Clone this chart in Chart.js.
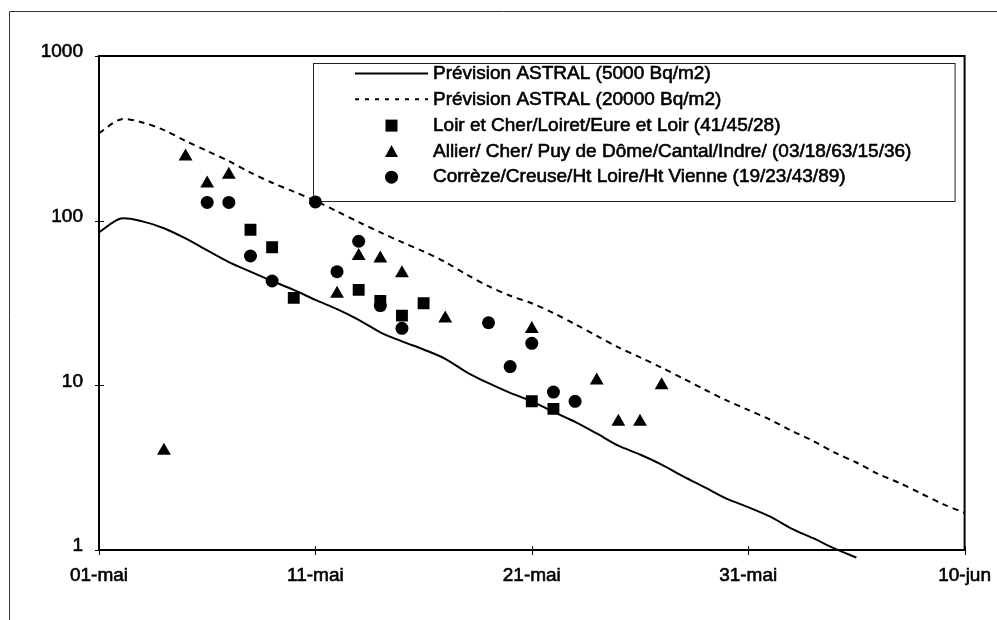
<!DOCTYPE html>
<html>
<head>
<meta charset="utf-8">
<script src="https://cdn.jsdelivr.net/npm/chart.js@4/dist/chart.umd.min.js"></script>
<style>
  html, body { margin: 0; padding: 0; background: #fff; }
  #wrap { position: relative; width: 997px; height: 620px; }
</style>
</head>
<body>
<div id="wrap"><canvas id="chart" width="997" height="620"></canvas></div>
<script>
// x values are days counted from 1 May
const xTickDays = [0, 10, 20, 30, 40];
const xTickLabels = ['01-mai', '11-mai', '21-mai', '31-mai', '10-jun'];
const yTickValues = [1, 10, 100, 1000];

const seriesNames = [
    'Prévision ASTRAL (5000 Bq/m2)',
    'Prévision ASTRAL (20000 Bq/m2)',
    'Loir et Cher/Loiret/Eure et Loir (41/45/28)',
    'Allier/ Cher/ Puy de Dôme/Cantal/Indre/ (03/18/63/15/36)',
    'Corrèze/Creuse/Ht Loire/Ht Vienne (19/23/43/89)'
];

// ASTRAL forecasts, one value per day from 1 May
const astral5000 = [85, 103, 99, 90, 78, 66, 56, 49, 43, 38, 33, 29, 25, 21, 18.5, 16.5, 14.5, 12,
    10.3, 9.0, 8.0, 6.9, 6.0, 5.1, 4.3, 3.8, 3.3, 2.8, 2.4, 2.05, 1.82, 1.6, 1.35, 1.18, 1.02, 0.9];
const astral20000 = [340, 412, 395, 355, 305, 265, 230, 196, 170, 150, 132, 114, 98, 85, 74, 65, 56,
    47, 40, 35, 31.5, 27.5, 23.5, 20, 17, 14.8, 12.8, 11, 9.4, 8.1, 7.1, 6.2, 5.3, 4.6, 3.9, 3.4,
    2.9, 2.55, 2.2, 1.9, 1.68];

// measurements
const loirDays = [7, 8, 9, 12, 13, 14, 15, 20, 21];
const loirValues = [88, 69, 34, 38, 32.5, 26.5, 31.5, 8.0, 7.2];

const allierDays = [3, 4, 5, 6, 11, 12, 13, 14, 16, 20, 23, 24, 25, 26];
const allierValues = [4, 245, 168, 190, 36, 61, 59, 48, 25.5, 22, 10.7, 6, 6, 10];

const correzeDays = [5, 6, 7, 8, 10, 11, 12, 13, 14, 18, 19, 20, 21, 22];
const correzeValues = [129, 129, 61, 43, 130, 49, 75, 30.5, 22.2, 24, 13, 18, 9.1, 8.0];

const FONT = '"Liberation Sans", Arial, sans-serif';
const DASH = [6, 5];

const toPoints = (days, values) => values.map((v, i) => ({ x: days[i], y: v }));
const dailyPoints = values => values.map((v, i) => ({ x: i, y: v }));

// page frame, plot box and cross tick marks
const frame = {
    id: 'frame',
    beforeDraw(chart) {
        const ctx = chart.ctx;
        ctx.save();
        ctx.strokeStyle = '#333';
        ctx.lineWidth = 1;
        ctx.beginPath();
        ctx.moveTo(9.5, 620);
        ctx.lineTo(9.5, 11.5);
        ctx.lineTo(997, 11.5);
        ctx.stroke();
        ctx.restore();
    },
    beforeDatasetsDraw(chart) {
        const { ctx, chartArea: a, scales } = chart;
        ctx.save();
        ctx.strokeStyle = '#000';
        ctx.lineWidth = 2;
        ctx.strokeRect(a.left, a.top, a.right - a.left, a.bottom - a.top);
        ctx.lineWidth = 1;
        ctx.beginPath();
        xTickDays.forEach(d => {
            const x = Math.round(scales.x.getPixelForValue(d)) + 0.5;
            ctx.moveTo(x, a.bottom - 4);
            ctx.lineTo(x, a.bottom + 5);
        });
        yTickValues.forEach(v => {
            const y = Math.round(scales.y.getPixelForValue(v)) + 0.5;
            ctx.moveTo(a.left - 4, y);
            ctx.lineTo(a.left + 5, y);
        });
        ctx.stroke();
        ctx.restore();
    }
};

function drawMarker(ctx, style, x, y) {
    ctx.beginPath();
    if (style === 'rect') {
        ctx.rect(x - 6, y - 6, 12, 12);
    } else if (style === 'triangle') {
        ctx.moveTo(x, y - 6.5);
        ctx.lineTo(x + 6.5, y + 5.5);
        ctx.lineTo(x - 6.5, y + 5.5);
        ctx.closePath();
    } else {
        ctx.arc(x, y, 6.5, 0, Math.PI * 2);
    }
    ctx.fill();
}

// boxed legend inside the plot, drawn under the markers
const legendBox = {
    id: 'legendBox',
    beforeDatasetsDraw(chart) {
        const { ctx, chartArea: a } = chart;
        const left = a.left + 214, top = a.top + 7;
        const right = a.right - 10, bottom = a.top + 145;
        ctx.save();
        ctx.fillStyle = '#fff';
        ctx.fillRect(left, top, right - left, bottom - top);
        ctx.strokeStyle = '#222';
        ctx.lineWidth = 1;
        ctx.strokeRect(left + 0.5, top + 0.5, right - left, bottom - top);

        ctx.font = '19px ' + FONT;
        ctx.textBaseline = 'middle';
        ctx.fillStyle = '#000';
        ctx.strokeStyle = '#000';
        chart.data.datasets.forEach((ds, i) => {
            const y = top + 10 + i * 25.8;
            const sx0 = left + 42, sx1 = left + 115;
            if (ds.type === 'line') {
                ctx.save();
                ctx.lineWidth = 2;
                ctx.setLineDash(ds.borderDash ? [4, 6] : []);
                ctx.beginPath();
                ctx.moveTo(sx0, y + 0.5);
                ctx.lineTo(sx1, y + 0.5);
                ctx.stroke();
                ctx.restore();
            } else {
                drawMarker(ctx, ds.pointStyle, (sx0 + sx1) / 2, y + 1);
            }
            ctx.lineWidth = 0.6;
            ctx.fillText(ds.label, left + 120, y + 1);
            ctx.strokeText(ds.label, left + 120, y + 1);
        });
        ctx.restore();
    }
};

new Chart(document.getElementById('chart'), {
    type: 'scatter',
    data: {
        datasets: [
            {
                type: 'line',
                label: seriesNames[0],
                data: dailyPoints(astral5000),
                borderColor: '#000',
                borderWidth: 2,
                pointRadius: 0,
                tension: 0.3,
                clip: false,
                order: 5
            },
            {
                type: 'line',
                label: seriesNames[1],
                data: dailyPoints(astral20000),
                borderColor: '#000',
                borderWidth: 2,
                borderDash: DASH,
                pointRadius: 0,
                tension: 0.3,
                order: 4
            },
            {
                label: seriesNames[2],
                data: toPoints(loirDays, loirValues),
                pointStyle: 'rect',
                pointRadius: 8.4,
                backgroundColor: '#000',
                borderWidth: 0,
                order: 3
            },
            {
                label: seriesNames[3],
                data: toPoints(allierDays, allierValues),
                pointStyle: 'triangle',
                pointRadius: 8,
                backgroundColor: '#000',
                borderWidth: 0,
                order: 2
            },
            {
                label: seriesNames[4],
                data: toPoints(correzeDays, correzeValues),
                pointStyle: 'circle',
                pointRadius: 6.5,
                backgroundColor: '#000',
                borderWidth: 0,
                order: 1
            }
        ]
    },
    options: {
        responsive: false,
        animation: false,
        layout: { padding: { top: 56, right: 27, left: 0, bottom: 0 } },
        plugins: {
            legend: { display: false },
            tooltip: { enabled: false }
        },
        scales: {
            x: {
                type: 'linear',
                min: 0,
                max: 40,
                afterBuildTicks: scale => { scale.ticks = xTickDays.map(v => ({ value: v })); },
                afterFit: scale => { scale.height = 70; },
                grid: { display: false },
                border: { display: false },
                ticks: {
                    color: '#000',
                    font: { family: FONT, size: 19 },
                    textStrokeColor: '#000',
                    textStrokeWidth: 0.6,
                    padding: 6,
                    maxRotation: 0,
                    callback: v => xTickLabels[xTickDays.indexOf(v)]
                }
            },
            y: {
                type: 'logarithmic',
                min: 1,
                max: 1000,
                afterBuildTicks: scale => { scale.ticks = yTickValues.map(v => ({ value: v })); },
                afterFit: scale => { scale.width = 99; },
                grid: { display: false },
                border: { display: false },
                ticks: {
                    color: '#000',
                    font: { family: FONT, size: 19 },
                    textStrokeColor: '#000',
                    textStrokeWidth: 0.6,
                    padding: 8,
                    labelOffset: -4,
                    callback: v => String(v)
                }
            }
        }
    },
    plugins: [frame, legendBox]
});
</script>
</body>
</html>
